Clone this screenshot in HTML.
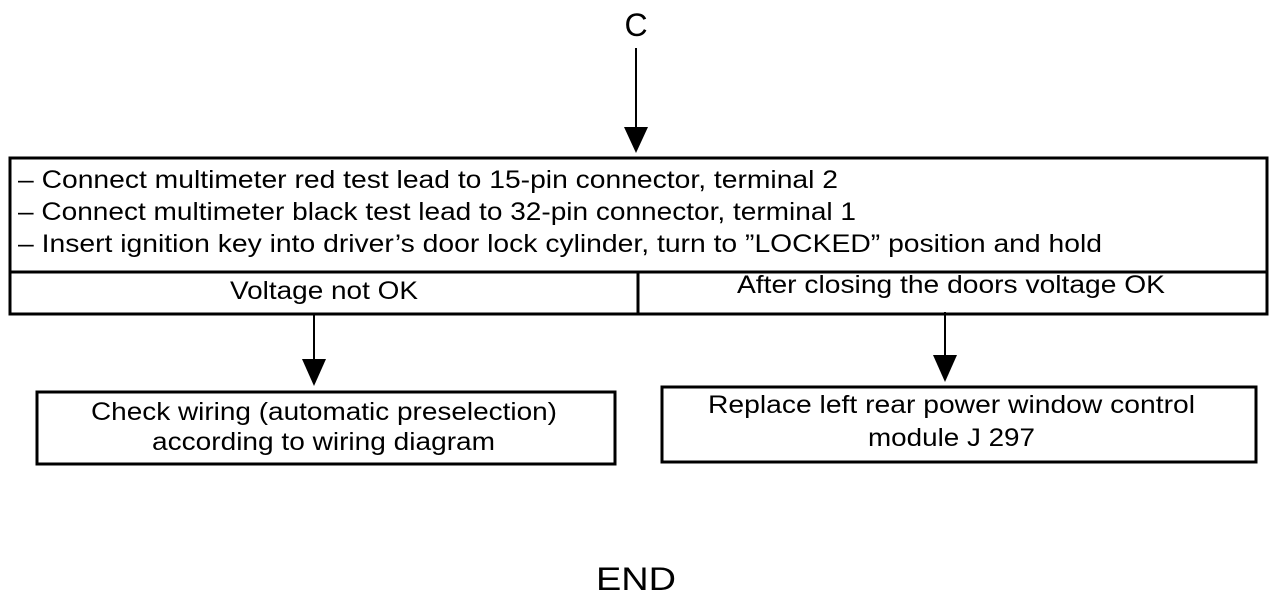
<!DOCTYPE html>
<html><head><style>html,body{margin:0;padding:0;background:#fff}svg{display:block}</style></head>
<body>
<svg width="1280" height="598" xmlns="http://www.w3.org/2000/svg" font-family="Liberation Sans, sans-serif" fill="#000">
<g stroke="#000" stroke-width="3" fill="none">
<rect x="10" y="158" width="1257" height="156"/>
<line x1="10" y1="272" x2="1267" y2="272"/>
<line x1="638" y1="272" x2="638" y2="314"/>
<rect x="37" y="392" width="578" height="72"/>
<rect x="662" y="387" width="594" height="75"/>
<line x1="636" y1="48" x2="636" y2="128" stroke-width="2"/>
<line x1="314" y1="314" x2="314" y2="360" stroke-width="2"/>
<line x1="945" y1="312" x2="945" y2="356" stroke-width="2"/>
</g>
<polygon points="624,127 648,127 636,153"/>
<polygon points="302,359 326,359 314,386"/>
<polygon points="933,355 957,355 945,382"/>
<g font-size="25">
<text x="18" y="188" textLength="820" lengthAdjust="spacingAndGlyphs">– Connect multimeter red test lead to 15-pin connector, terminal 2</text>
<text x="18" y="220" textLength="838" lengthAdjust="spacingAndGlyphs">– Connect multimeter black test lead to 32-pin connector, terminal 1</text>
<text x="18" y="252" textLength="1084" lengthAdjust="spacingAndGlyphs">– Insert ignition key into driver’s door lock cylinder, turn to ”LOCKED” position and hold</text>
<text x="230" y="299" textLength="188" lengthAdjust="spacingAndGlyphs">Voltage not OK</text>
<text x="737" y="293" textLength="428" lengthAdjust="spacingAndGlyphs">After closing the doors voltage OK</text>
<text x="91" y="420" textLength="466" lengthAdjust="spacingAndGlyphs">Check wiring (automatic preselection)</text>
<text x="152" y="450" textLength="343" lengthAdjust="spacingAndGlyphs">according to wiring diagram</text>
<text x="708" y="413" textLength="487" lengthAdjust="spacingAndGlyphs">Replace left rear power window control</text>
<text x="868" y="446" textLength="167" lengthAdjust="spacingAndGlyphs">module J 297</text>
</g>
<text x="636" y="36" font-size="32" text-anchor="middle">C</text>
<text x="636" y="590" font-size="32" text-anchor="middle" textLength="80" lengthAdjust="spacingAndGlyphs">END</text>
</svg>
</body></html>
